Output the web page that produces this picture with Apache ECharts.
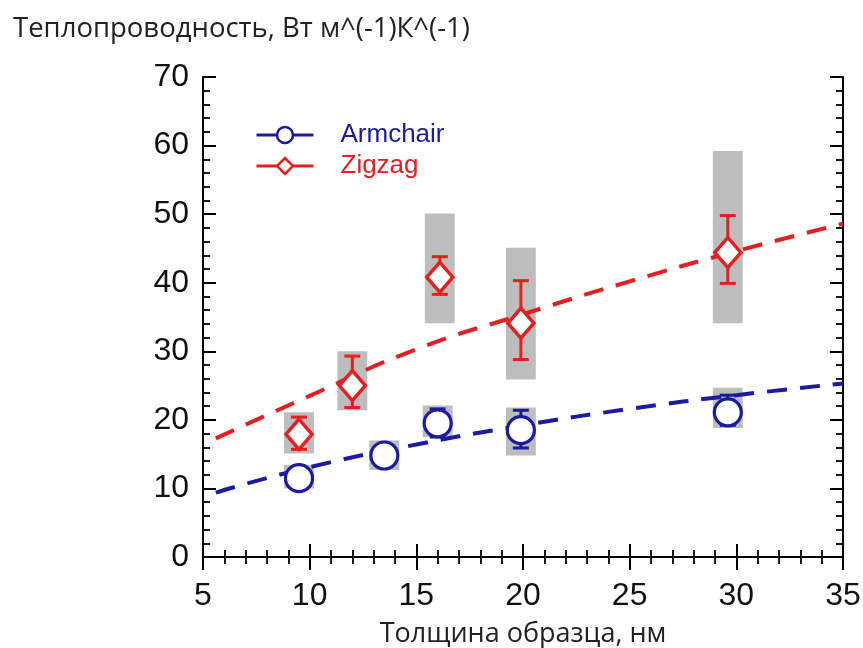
<!DOCTYPE html>
<html>
<head>
<meta charset="utf-8">
<script src="https://cdn.jsdelivr.net/npm/echarts@6/dist/echarts.min.js"></script>
<style>
html,body{margin:0;padding:0;background:#fff;}
#chart{width:863px;height:648px;}
</style>
</head>
<body>
<div id="chart"></div>
<script>
// ---- data ----
const titleText = 'Теплопроводность, Вт м^(-1)К^(-1)';
const xName = 'Толщина образца, нм';
const seriesNames = ['Armchair', 'Zigzag'];

const xArm = [9.5, 13.5, 16.0, 19.9, 29.6];
const yArm = [11.5, 14.8, 19.5, 18.5, 21.1];
const errArmLo = [null, null, 17.5, 15.9, 19.2];
const errArmHi = [null, null, 21.6, 21.4, 23.6];
const boxArmLo = [10.0, 12.7, 17.5, 14.8, 18.8];
const boxArmHi = [13.4, 17.0, 22.1, 21.8, 24.7];

const xZig = [9.5, 12.0, 16.1, 19.9, 29.6];
const yZig = [17.9, 25.0, 40.8, 34.1, 44.4];
const errZigLo = [15.7, 21.8, 38.3, 28.8, 39.9];
const errZigHi = [20.4, 29.3, 43.8, 40.3, 49.8];
const boxZigLo = [15.1, 21.4, 34.1, 25.9, 34.1];
const boxZigHi = [21.1, 30.0, 50.1, 45.1, 59.2];

// dashed guide lines
const fitArmX = [5.6, 10, 15, 20, 25, 30, 35];
const fitArmY = [9.4, 13.1, 16.4, 19.2, 21.6, 23.6, 25.3];
const fitZigX = [5.6, 10, 15, 20, 25, 30, 35];
const fitZigY = [17.3, 23.5, 30.3, 35.4, 40.2, 44.6, 48.6];

const xTicks = [5, 35, 5];   // min, max, interval
const yTicks = [0, 70, 10];

// ---- styles ----
const BLUE = '#1a1aa2';
const RED = '#e3201f';
const GREY = '#bdbdbd';
const BOX_HALF = 0.7;
const CAP_HALF = 8;

const zip2 = (a, b) => a.map((v, i) => [v, b[i]]);
const zip3 = (a, b, c) => a.map((v, i) => [v, b[i], c[i]]).filter(d => d[1] != null && d[2] != null);

function boxRender(params, api) {
  const x = api.value(0), lo = api.value(1), hi = api.value(2);
  const p1 = api.coord([x - BOX_HALF, hi]);
  const p2 = api.coord([x + BOX_HALF, lo]);
  return {type: 'rect', shape: {x: p1[0], y: p1[1], width: p2[0] - p1[0], height: p2[1] - p1[1]},
          style: {fill: GREY}};
}
function errRender(color) {
  return function (params, api) {
    const x = api.value(0), lo = api.value(1), hi = api.value(2);
    const a = api.coord([x, hi]);
    const b = api.coord([x, lo]);
    const st = {stroke: color, lineWidth: 3};
    return {type: 'group', children: [
      {type: 'line', shape: {x1: a[0], y1: a[1], x2: b[0], y2: b[1]}, style: st},
      {type: 'line', shape: {x1: a[0] - CAP_HALF, y1: a[1], x2: a[0] + CAP_HALF, y2: a[1]}, style: st},
      {type: 'line', shape: {x1: b[0] - CAP_HALF, y1: b[1], x2: b[0] + CAP_HALF, y2: b[1]}, style: st}
    ]};
  };
}

const tickCommon = (show) => ({
  axisLine: {show: true, lineStyle: {color: '#000', width: 2}},
  axisTick: {show: true, inside: true, length: 13, lineStyle: {color: '#000', width: 2}},
  minorTick: {show: true, splitNumber: 5, length: 7, lineStyle: {color: '#000', width: 1.8}},
  splitLine: {show: false},
  minorSplitLine: {show: false},
  axisLabel: {show: show, fontSize: 32, color: '#111', fontFamily: 'Liberation Sans'}
});

const chart = echarts.init(document.getElementById('chart'), null, {renderer: 'canvas'});
chart.setOption({
  animation: false,
  backgroundColor: '#fff',
  title: {text: titleText, left: 8, top: 10,
          textStyle: {fontSize: 27.5, fontWeight: 'normal', fontFamily: 'Open Sans', color: '#222'}},
  grid: {left: 203, right: 20, top: 77, bottom: 91, containLabel: false, outerBoundsMode: 'none'},
  legend: {
    orient: 'vertical', left: 250, top: 117, itemWidth: 57, itemHeight: 20, itemGap: 5,
    data: [{name: seriesNames[0], textStyle: {color: BLUE}}, {name: seriesNames[1], textStyle: {color: RED}}],
    textStyle: {fontSize: 26, fontFamily: 'Liberation Sans', padding: [0, 0, 0, 22]},
    lineStyle: {width: 3, opacity: 1, type: 'solid'},
    itemStyle: {borderWidth: 2.5}
  },
  xAxis: [
    Object.assign({type: 'value', min: xTicks[0], max: xTicks[1], interval: xTicks[2], position: 'bottom',
      name: xName, nameLocation: 'middle', nameGap: 64,
      nameTextStyle: {fontSize: 27, fontFamily: 'Open Sans', color: '#222'}}, tickCommon(true),
      {axisLabel: {show: true, fontSize: 32, color: '#111', fontFamily: 'Liberation Sans', margin: 23}}),
    Object.assign({type: 'value', min: xTicks[0], max: xTicks[1], interval: xTicks[2], position: 'top'}, tickCommon(false))
  ],
  yAxis: [
    Object.assign({type: 'value', min: yTicks[0], max: yTicks[1], interval: yTicks[2], position: 'left'}, tickCommon(true),
      {axisLabel: {show: true, fontSize: 32, color: '#111', fontFamily: 'Liberation Sans', margin: 14}}),
    Object.assign({type: 'value', min: yTicks[0], max: yTicks[1], interval: yTicks[2], position: 'right'}, tickCommon(false))
  ],
  series: [
    {type: 'custom', name: 'boxA', renderItem: boxRender, data: zip3(xArm, boxArmLo, boxArmHi),
     encode: {x: 0, y: [1, 2]}, z: 1, silent: true},
    {type: 'custom', name: 'boxZ', renderItem: boxRender, data: zip3(xZig, boxZigLo, boxZigHi),
     encode: {x: 0, y: [1, 2]}, z: 1, silent: true},
    {type: 'line', name: 'fitA', data: zip2(fitArmX, fitArmY), smooth: true, showSymbol: false, symbol: 'none',
     lineStyle: {color: BLUE, width: 4, type: [20, 13]}, z: 2, silent: true},
    {type: 'line', name: 'fitZ', data: zip2(fitZigX, fitZigY), smooth: true, showSymbol: false, symbol: 'none',
     lineStyle: {color: RED, width: 4, type: [20, 13]}, z: 2, silent: true},
    {type: 'custom', name: 'errA', renderItem: errRender(BLUE), data: zip3(xArm, errArmLo, errArmHi),
     encode: {x: 0, y: [1, 2]}, z: 3, silent: true},
    {type: 'custom', name: 'errZ', renderItem: errRender(RED), data: zip3(xZig, errZigLo, errZigHi),
     encode: {x: 0, y: [1, 2]}, z: 3, silent: true},
    {type: 'line', name: seriesNames[0], data: zip2(xArm, yArm), symbol: 'circle', symbolSize: 27, showAllSymbol: true,
     lineStyle: {color: BLUE, width: 0, opacity: 0},
     itemStyle: {color: '#fff', borderColor: BLUE, borderWidth: 3.2}, z: 5},
    {type: 'line', name: seriesNames[1], data: zip2(xZig, yZig), symbol: 'diamond', symbolSize: [26, 30], showAllSymbol: true,
     lineStyle: {color: RED, width: 0, opacity: 0},
     itemStyle: {color: '#fff', borderColor: RED, borderWidth: 3.5}, z: 5}
  ]
});
</script>
</body>
</html>
